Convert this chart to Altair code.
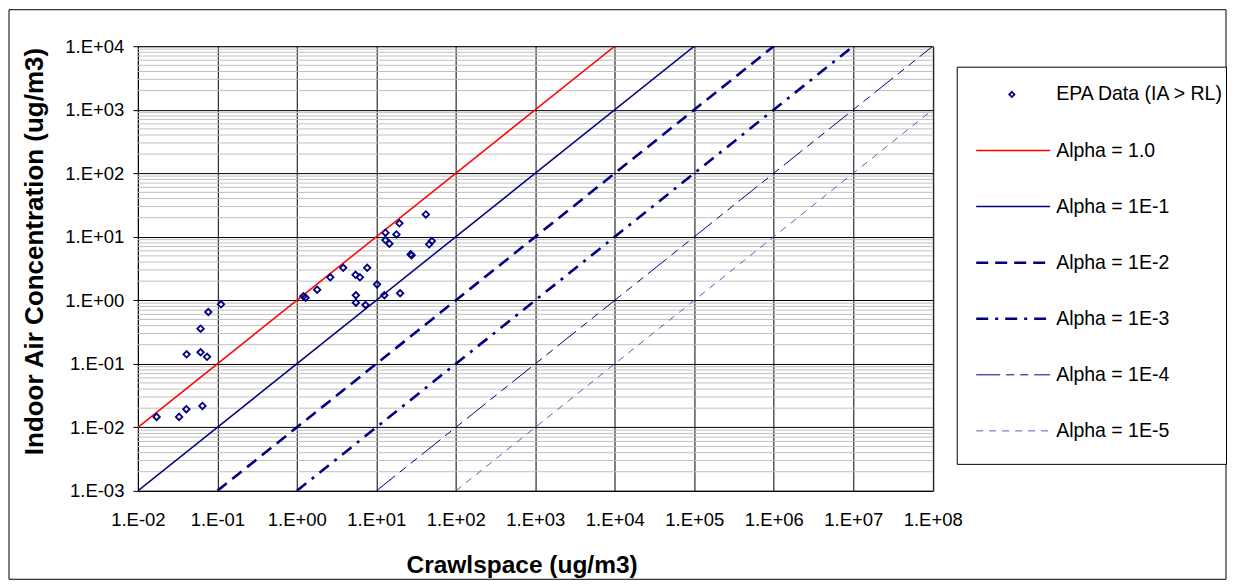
import altair as alt
import pandas as pd

# ---------------- data ----------------
# EPA data (IA > RL): crawlspace vs indoor air concentration, ug/m3
crawl = [0.111, 0.0769, 0.0615, 0.041, 0.0615, 0.0741, 0.0172, 0.033, 0.0407, 0.0649,
         1.21, 1.29, 1.80, 2.63, 3.83, 5.47, 6.21, 7.67, 10.2, 5.53, 5.53, 7.31, 12.6, 19.9,
         13.0, 13.0, 14.6, 19.5, 17.9, 27.0, 27.8, 42.0, 46.2, 49.9]
indoor = [0.865, 0.654, 0.357, 0.141, 0.152, 0.129, 0.0146, 0.0146, 0.0193, 0.0217,
          1.16, 1.10, 1.47, 2.30, 3.25, 2.52, 2.30, 3.25, 1.78, 1.20, 0.916, 0.843, 1.20, 1.29,
          11.6, 8.87, 7.77, 16.3, 10.9, 5.3, 5.1, 22.5, 7.6, 8.57]

# attenuation factor lines  IA = alpha * crawlspace
alphas = [1.0, 1e-1, 1e-2, 1e-3, 1e-4, 1e-5]
alpha_labels = ["Alpha = 1.0", "Alpha = 1E-1", "Alpha = 1E-2",
                "Alpha = 1E-3", "Alpha = 1E-4", "Alpha = 1E-5"]
point_label = "EPA Data (IA > RL)"

x_ticks = [1e-2, 1e-1, 1e0, 1e1, 1e2, 1e3, 1e4, 1e5, 1e6, 1e7, 1e8]
x_tick_labels = ["1.E-02", "1.E-01", "1.E+00", "1.E+01", "1.E+02", "1.E+03",
                 "1.E+04", "1.E+05", "1.E+06", "1.E+07", "1.E+08"]
y_ticks = [1e-3, 1e-2, 1e-1, 1e0, 1e1, 1e2, 1e3, 1e4]
y_tick_labels = ["1.E-03", "1.E-02", "1.E-01", "1.E+00", "1.E+01", "1.E+02",
                 "1.E+03", "1.E+04"]

X_MIN, X_MAX = x_ticks[0], x_ticks[-1]
Y_MIN, Y_MAX = y_ticks[0], y_ticks[-1]

# ---------------- styles ----------------
FONT = "Liberation Sans, Arial, sans-serif"
NAVY = "#000080"
line_colors = ["#ff0000", NAVY, NAVY, NAVY, NAVY, "#5c5cc4"]
line_widths = [1.5, 1.5, 2.6, 2.6, 1.0, 1.0]
line_dashes = [None, None, [12, 7], [12, 7, 3, 7], [24, 6, 8, 6, 8, 6], [7, 6]]

# ---------------- tables ----------------
points_df = pd.DataFrame({"x": crawl, "y": indoor})

rows = []
for a, lab in zip(alphas, alpha_labels):
    x0 = max(X_MIN, Y_MIN / a)
    x1 = min(X_MAX, Y_MAX / a)
    rows.append({"series": lab, "x": x0, "y": a * x0, "o": 0})
    rows.append({"series": lab, "x": x1, "y": a * x1, "o": 1})
lines_df = pd.DataFrame(rows)

# minor gridlines 2..9 within each decade
minor_vals = []
for e in range(-3, 4):
    for m in range(2, 10):
        minor_vals.append(m * 10.0 ** e)
minor_df = pd.DataFrame({"y": minor_vals})


def label_expr(labels, first_exp):
    arr = "[" + ",".join("'%s'" % l for l in labels) + "]"
    return "%s[round(log(datum.value)/LN10) - (%d)]" % (arr, first_exp)


x_enc = alt.X(
    "x:Q",
    scale=alt.Scale(type="log", domain=[X_MIN, X_MAX], nice=False),
    axis=alt.Axis(
        values=x_ticks, labelExpr=label_expr(x_tick_labels, -2),
        grid=True, gridColor="black", gridWidth=1, gridOpacity=1,
        ticks=False, tickSize=0, domain=True, domainColor="black", domainWidth=1,
        labelFont=FONT, labelFontSize=18.5, labelColor="black", labelPadding=20,
        labelFlush=False, labelOverlap=False,
        title="Crawlspace (ug/m3)", titleFont=FONT, titleFontSize=24.5,
        titleFontWeight="bold", titleColor="black",
        titleX=384, titleY=82, titleAlign="center", titleBaseline="alphabetic",
    ),
)
y_enc = alt.Y(
    "y:Q",
    scale=alt.Scale(type="log", domain=[Y_MIN, Y_MAX], nice=False),
    axis=alt.Axis(
        values=y_ticks, labelExpr=label_expr(y_tick_labels, -3),
        grid=True, gridColor="black", gridWidth=1, gridOpacity=1,
        ticks=True, tickSize=5, tickColor="black", tickWidth=1,
        domain=True, domainColor="black", domainWidth=1,
        labelFont=FONT, labelFontSize=18.5, labelColor="black", labelPadding=9,
        labelFlush=False, labelOverlap=False,
        title="Indoor Air Concentration (ug/m3)", titleFont=FONT, titleFontSize=26,
        titleFontWeight="bold", titleColor="black", titleAngle=270,
        titleX=-95, titleY=205, titleAlign="center", titleBaseline="alphabetic",
    ),
)

minor = alt.Chart(minor_df).mark_rule(color="#c0c0c0", strokeWidth=1).encode(y=y_enc)

line_layers = []
for lab, col, w, d in zip(alpha_labels, line_colors, line_widths, line_dashes):
    kw = dict(color=col, strokeWidth=w, clip=True)
    if d:
        kw["strokeDash"] = d
    line_layers.append(
        alt.Chart(lines_df)
        .transform_filter(alt.datum.series == lab)
        .mark_line(**kw)
        .encode(x=x_enc, y=y_enc, order="o:Q")
    )

pts = alt.Chart(points_df).mark_point(
    shape="diamond", filled=False, color=NAVY, strokeWidth=1.8, size=42, opacity=1
).encode(x=x_enc, y=y_enc)

frame = alt.Chart(alt.Data(values=[{}])).mark_rect(
    fillOpacity=0, stroke="black", strokeWidth=1
).encode(x=alt.value(-129), x2=alt.value(1089), y=alt.value(-36.5), y2=alt.value(533.5))

main = alt.layer(minor, *line_layers, pts, frame).properties(
    width=795.5, height=445,
    view=alt.ViewBackground(stroke="#808080", strokeWidth=1),
)

# ---------------- legend panel ----------------
leg_labels = [point_label] + alpha_labels
leg_y = alt.Y("label:N", scale=alt.Scale(type="point", domain=leg_labels,
                                         range=[48.3, 385], padding=0), axis=None)

box = alt.Chart(alt.Data(values=[{}])).mark_rect(
    fill="white", stroke="black", strokeWidth=1
).encode(x=alt.value(0), x2=alt.value(269.5), y=alt.value(21), y2=alt.value(418.5))

sym = alt.Chart(pd.DataFrame({"label": [point_label]})).mark_point(
    shape="diamond", filled=False, color=NAVY, strokeWidth=1.7, size=28, opacity=1
).encode(x=alt.value(54.7), y=leg_y)

leg_lines = []
for lab, col, w, d in zip(alpha_labels, line_colors, line_widths, line_dashes):
    kw = dict(color=col, strokeWidth=w)
    if d:
        kw["strokeDash"] = d
    leg_lines.append(
        alt.Chart(pd.DataFrame({"label": [lab]})).mark_rule(**kw)
        .encode(x=alt.value(19), x2=alt.value(93), y=leg_y)
    )

leg_text = alt.Chart(pd.DataFrame({"label": leg_labels})).mark_text(
    align="left", baseline="middle", font=FONT, fontSize=19.5, color="black"
).encode(x=alt.value(99), y=leg_y, text="label:N")

legend = alt.layer(box, sym, *leg_lines, leg_text).properties(
    width=269.5, height=445,
    view=alt.ViewBackground(strokeOpacity=0, strokeWidth=0),
)

chart = alt.hconcat(main, legend, spacing=24, bounds="flush").properties(
    padding=0, background="white"
)

chart.save("out.html", embed_options={"renderer": "svg", "actions": False})
